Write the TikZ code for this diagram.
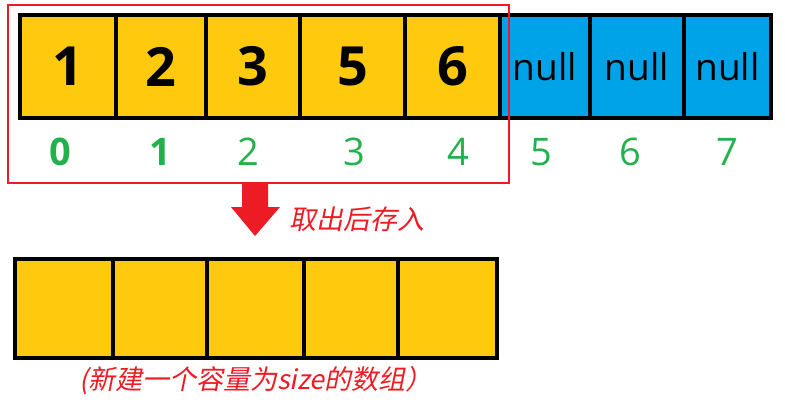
\documentclass[tikz,border=0pt]{standalone}
\usepackage{fontspec}
\setmainfont{Open Sans}
\newfontfamily\cjk{Noto Sans CJK SC}[FakeSlant=0.2]

\definecolor{cellyellow}{HTML}{FFC90E}
\definecolor{cellblue}{HTML}{00A2E8}
\definecolor{idxgreen}{HTML}{22B14C}
\definecolor{markred}{HTML}{ED1C24}

\tikzset{
	cell/.style={draw=black, line width=3.6pt, inner sep=0pt},
	idx/.style={text=idxgreen, font=\fontsize{38}{40}\selectfont},
	remark/.style={text=markred, font=\cjk\fontsize{27}{30}\selectfont}
}

\begin{document}
\begin{tikzpicture}[x=1pt, y=-1pt]
	
	% Page size of the reference
	\useasboundingbox (0,0) rectangle (785,405);
	
	% Old array: filled cells (left, width, value)
	\foreach \l/\w/\v [count=\i from 0] in {20/96/1, 116/90/2, 206/94/3, 300/105/5, 405/95/6} {
		\node[cell, fill=cellyellow, minimum width=\w pt, minimum height=103pt,
			font=\bfseries\fontsize{54}{56}\selectfont] (old\i) at (\l+\w/2, 66.5) {\v};
	}
	
	% Old array: empty slots
	\foreach \l/\w [count=\i from 5] in {500/90, 590/94, 684/87} {
		\node[cell, fill=cellblue, minimum width=\w pt, minimum height=103pt,
			font=\fontsize{37}{40}\selectfont] (old\i) at (\l+\w/2, 66.5) {null};
	}
	
	% Indices under the old array
	\foreach \x/\n [count=\i from 0] in {60/0, 160/1, 248/2, 354/3, 458/4, 541/5, 630/6, 727/7} {
		\ifnum\i<2
			\node[idx, font=\bfseries\fontsize{38}{40}\selectfont] (idx\i) at (\x, 152) {\n};
		\else
			\node[idx] (idx\i) at (\x, 152) {\n};
		\fi
	}
	
	% Red frame round the used part
	\node[draw=markred, line width=2.8pt, minimum width=501pt, minimum height=178pt] (frame) at (258.5, 94) {};
	
	% Big arrow down
	\fill[markred] (242,183) -- (268,183) -- (268,207) -- (280,207) -- (255,236)
		-- (231,207) -- (242,207) -- cycle;
	\node[remark] (take) at (357, 219) {取出后存入};
	
	% New array
	\foreach \l/\w [count=\i from 0] in {15/98, 113/94, 207/97, 304/94, 398/99} {
		\node[cell, fill=cellyellow, minimum width=\w pt, minimum height=99pt] (new\i) at (\l+\w/2, 308.5) {};
	}
	
	\node[remark] (note) at (256, 381) {(新建一个容量为size的数组）};
\end{tikzpicture}
\end{document}
